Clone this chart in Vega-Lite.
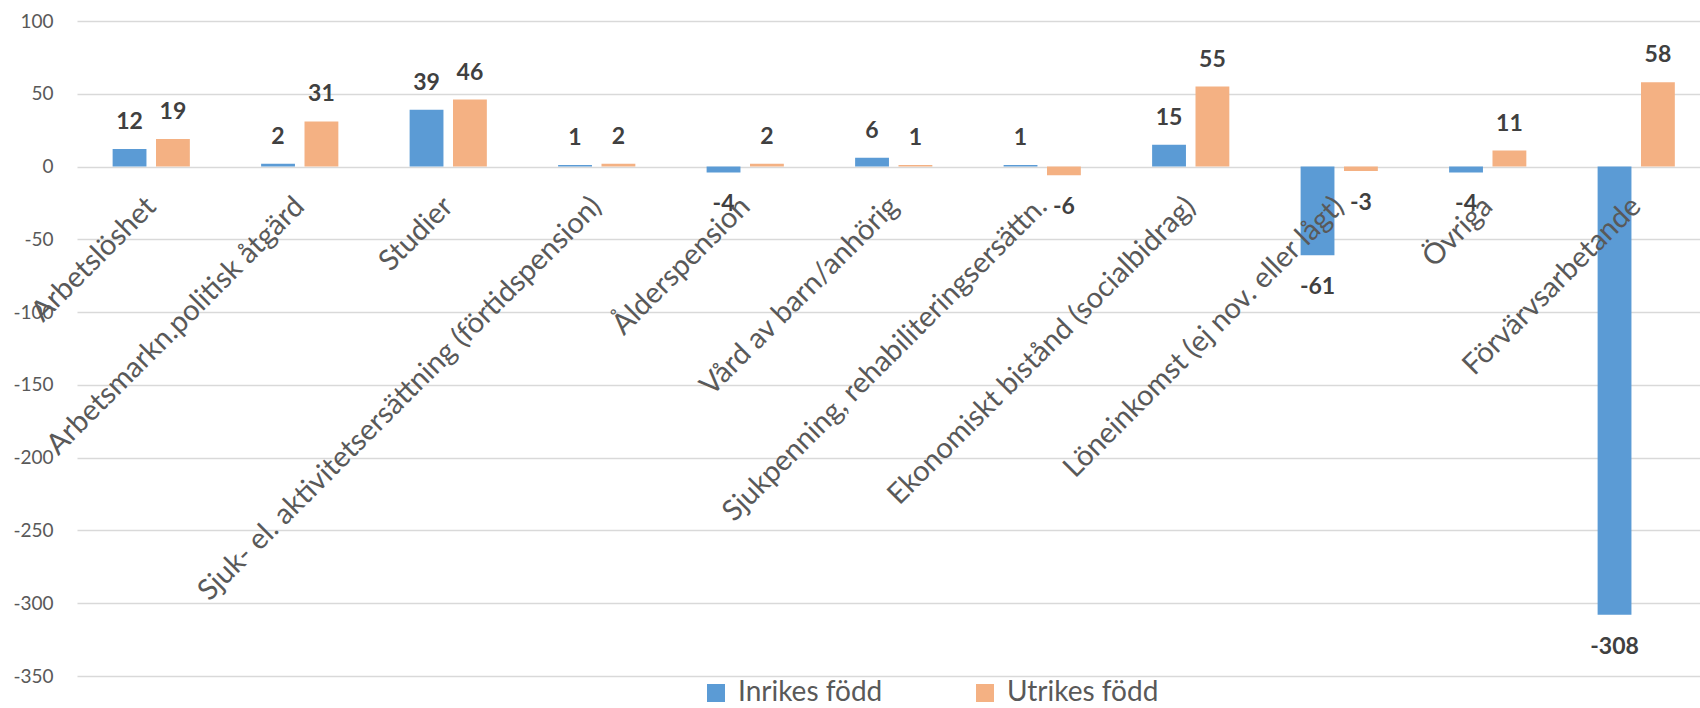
{
  "$schema": "https://vega.github.io/schema/vega-lite/v6.json",
  "autosize": {"type": "none"},
  "width": 1623,
  "height": 655,
  "padding": {"left": 77, "top": 21, "right": 0, "bottom": 32},
  "background": "white",
  "config": {"font": "Lato", "view": {"stroke": null}},
  "data": {"values": [
    {"category": "Arbetslöshet", "group": "Inrikes född", "value": 12},
    {"category": "Arbetslöshet", "group": "Utrikes född", "value": 19},
    {"category": "Arbetsmarkn.politisk åtgärd", "group": "Inrikes född", "value": 2},
    {"category": "Arbetsmarkn.politisk åtgärd", "group": "Utrikes född", "value": 31},
    {"category": "Studier", "group": "Inrikes född", "value": 39},
    {"category": "Studier", "group": "Utrikes född", "value": 46},
    {"category": "Sjuk- el. aktivitetsersättning (förtidspension)", "group": "Inrikes född", "value": 1},
    {"category": "Sjuk- el. aktivitetsersättning (förtidspension)", "group": "Utrikes född", "value": 2},
    {"category": "Ålderspension", "group": "Inrikes född", "value": -4},
    {"category": "Ålderspension", "group": "Utrikes född", "value": 2},
    {"category": "Vård av barn/anhörig", "group": "Inrikes född", "value": 6},
    {"category": "Vård av barn/anhörig", "group": "Utrikes född", "value": 1},
    {"category": "Sjukpenning, rehabiliteringsersättn.", "group": "Inrikes född", "value": 1},
    {"category": "Sjukpenning, rehabiliteringsersättn.", "group": "Utrikes född", "value": -6},
    {"category": "Ekonomiskt bistånd (socialbidrag)", "group": "Inrikes född", "value": 15},
    {"category": "Ekonomiskt bistånd (socialbidrag)", "group": "Utrikes född", "value": 55},
    {"category": "Löneinkomst (ej nov. eller lågt)", "group": "Inrikes född", "value": -61},
    {"category": "Löneinkomst (ej nov. eller lågt)", "group": "Utrikes född", "value": -3},
    {"category": "Övriga", "group": "Inrikes född", "value": -4},
    {"category": "Övriga", "group": "Utrikes född", "value": 11},
    {"category": "Förvärvsarbetande", "group": "Inrikes född", "value": -308},
    {"category": "Förvärvsarbetande", "group": "Utrikes född", "value": 58}
  ]},
  "encoding": {
    "x": {"field": "category", "type": "nominal", "sort": null, "axis": null,
          "scale": {"paddingInner": 0.48, "paddingOuter": 0.2047, "align": 0.586}},
    "y": {"field": "value", "type": "quantitative",
          "scale": {"domain": [-350, 100], "nice": false, "zero": false},
          "axis": {"title": null, "values": [-350, -300, -250, -200, -150, -100, -50, 0, 50, 100],
                   "labelExpr": "datum.value + ''",
                   "grid": true, "gridColor": "#d9d9d9", "gridWidth": 1.3, "domain": false,
                   "ticks": false, "tickSize": 0, "labelPadding": 24, "labelFontSize": 19,
                   "labelColor": "#595959", "labelFont": "Lato"}}
  },
  "layer": [
    {
      "mark": {"type": "bar"},
      "encoding": {
        "xOffset": {"field": "group", "type": "nominal", "scale": {"paddingInner": 0.22, "paddingOuter": 0}},
        "color": {"field": "group", "type": "nominal",
                  "scale": {"domain": ["Inrikes född", "Utrikes född"], "range": ["#5B9BD5", "#F4B183"]},
                  "legend": {"title": null, "orient": "none", "legendX": 625, "legendY": 658,
                             "direction": "horizontal", "symbolType": "square", "symbolSize": 324,
                             "symbolStrokeWidth": 0, "labelFontSize": 28, "labelColor": "#595959",
                             "labelFont": "Lato", "labelOffset": 8, "columnPadding": 88, "padding": 0,
                             "labelLimit": 400}}
      }
    },
    {
      "transform": [{"filter": "datum.value >= 0"}],
      "mark": {"type": "text", "baseline": "alphabetic", "dy": -20, "fontSize": 23, "fontWeight": "bold", "color": "#404040"},
      "encoding": {
        "xOffset": {"field": "group", "type": "nominal"},
        "text": {"field": "value", "type": "nominal"}
      }
    },
    {
      "transform": [{"filter": "datum.value < 0"}],
      "mark": {"type": "text", "baseline": "alphabetic", "dy": 39, "fontSize": 23, "fontWeight": "bold", "color": "#404040"},
      "encoding": {
        "xOffset": {"field": "group", "type": "nominal"},
        "text": {"field": "value", "type": "nominal"}
      }
    },
    {
      "transform": [{"filter": "datum.group === 'Inrikes född'"}],
      "mark": {"type": "text", "angle": -45, "align": "right", "baseline": "middle", "dx": -25, "dy": 25, "fontSize": 29, "color": "#595959"},
      "encoding": {
        "y": {"datum": 0},
        "text": {"field": "category", "type": "nominal"}
      }
    }
  ]
}
